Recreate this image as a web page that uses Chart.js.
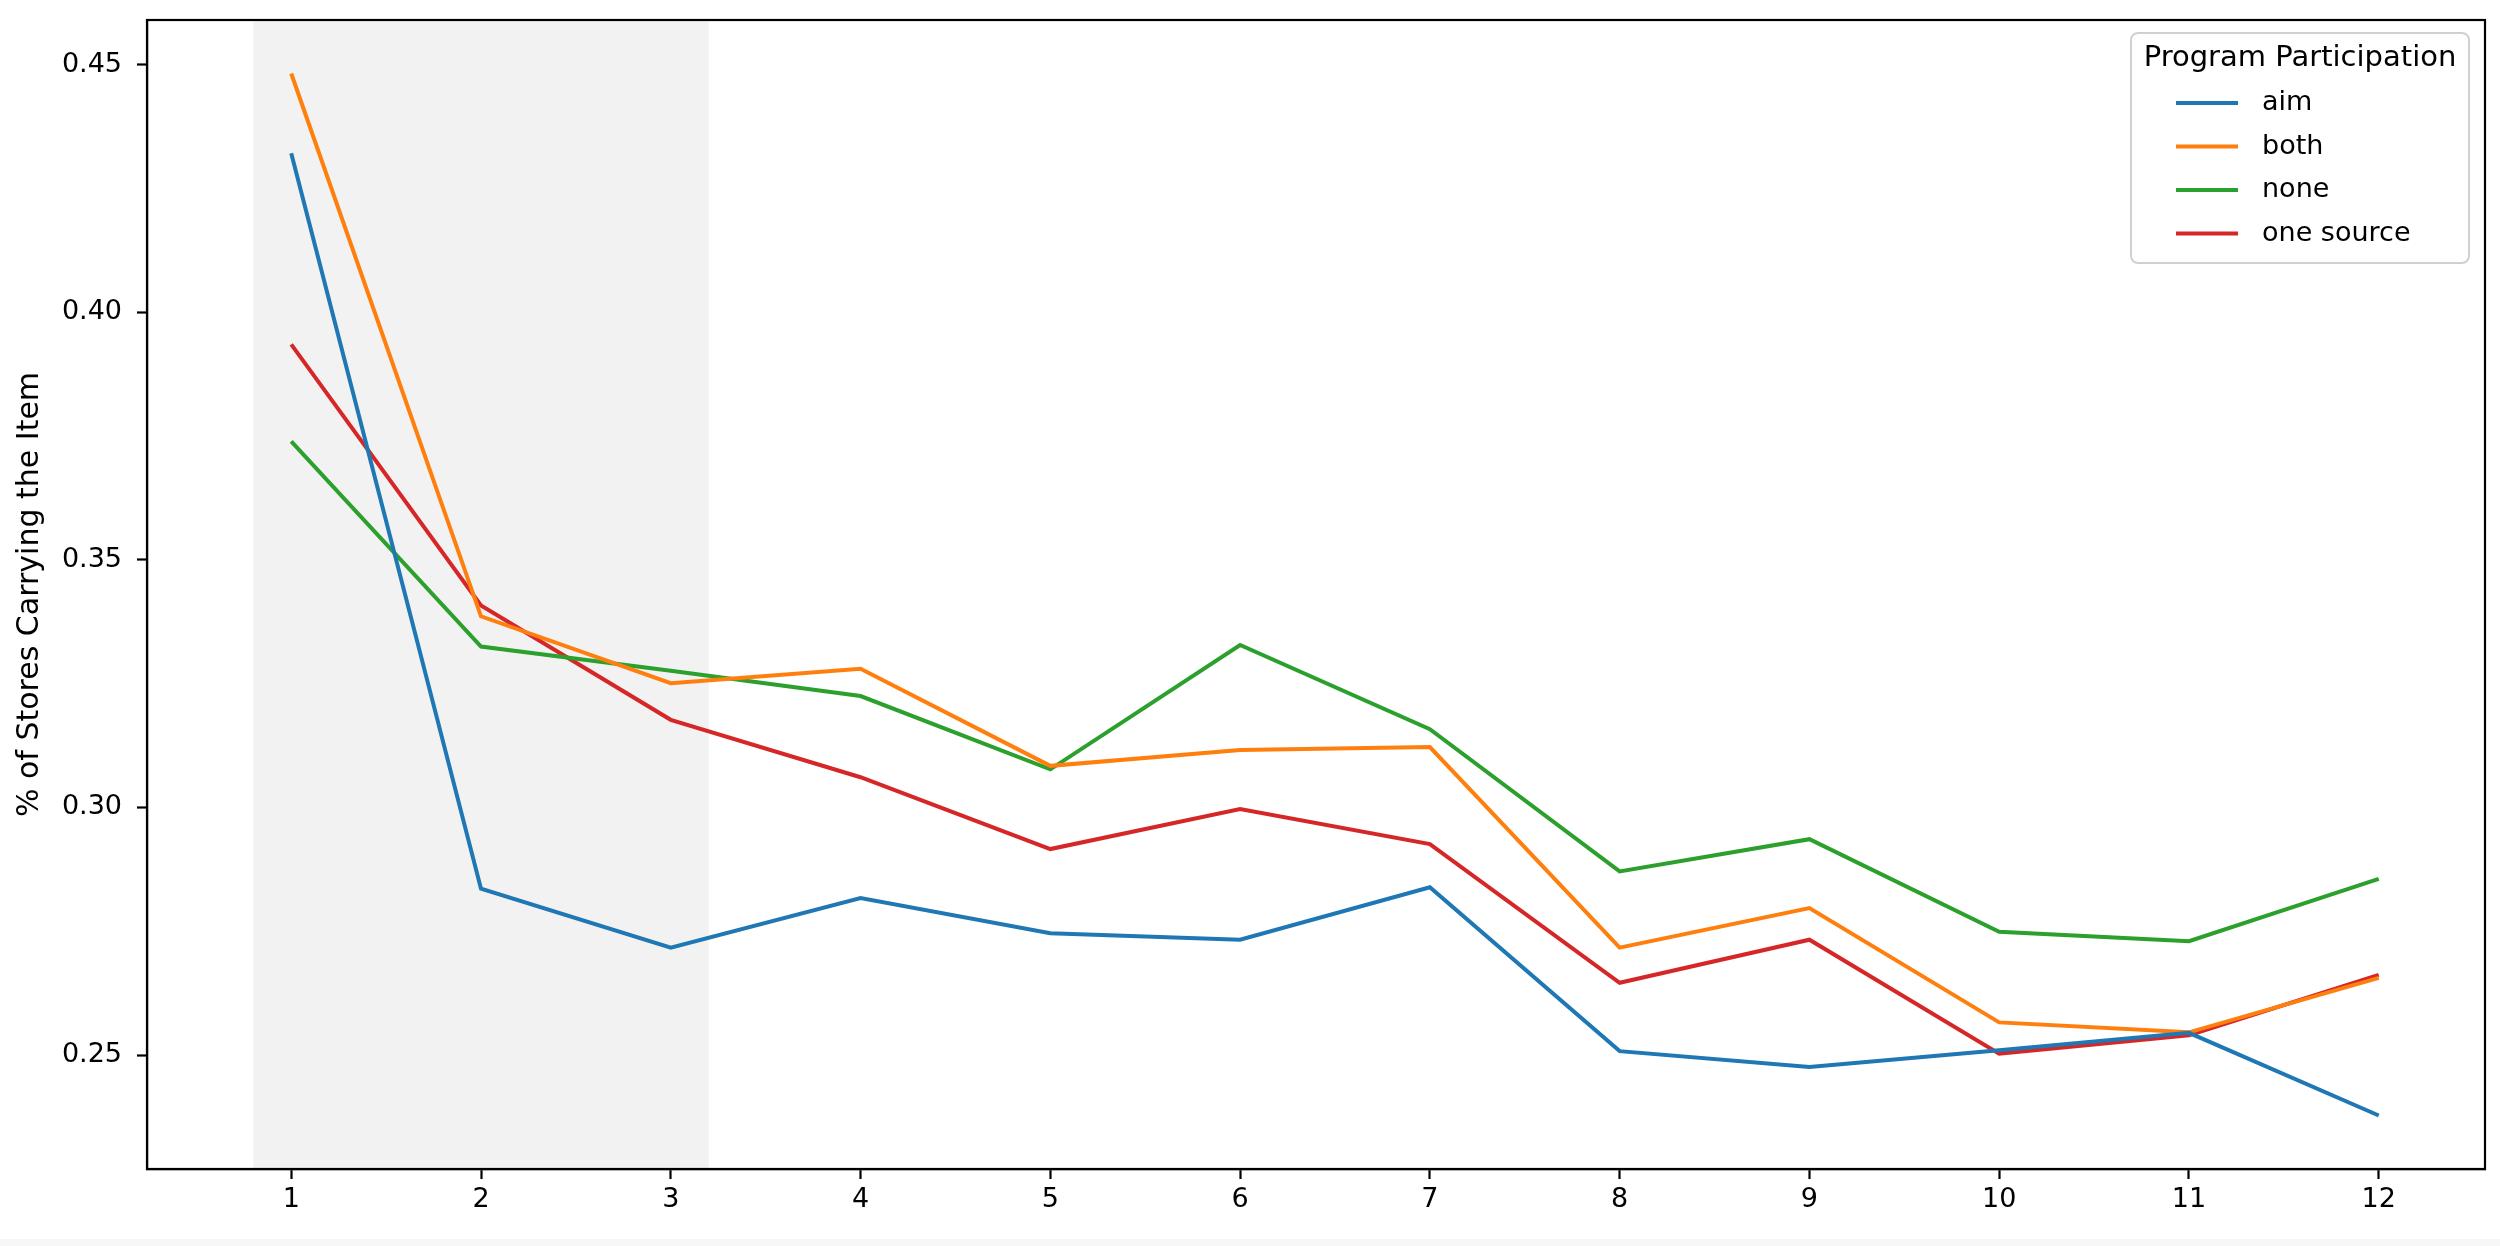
<!DOCTYPE html>
<html lang="en">
<head>
    <meta charset="UTF-8">
    <title>Program Participation</title>
    <script src="https://cdn.jsdelivr.net/npm/chart.js"></script>
    <style>
        html, body { margin: 0; padding: 0; background: #f7f7f7; }
        #wrap { width: 2500px; height: 1239px; background: #fff; }
    </style>
</head>
<body>
    <div id="wrap"><canvas id="chart" width="2500" height="1239"></canvas></div>

    <script>
        // data
        const months = [1, 2, 3, 4, 5, 6, 7, 8, 9, 10, 11, 12];
        const seriesNames = ["aim", "both", "none", "one source"];
        const seriesColors = ["#1f77b4", "#ff7f0e", "#2ca02c", "#d62728"];
        const aim = [0.4321, 0.2836, 0.2717, 0.2817, 0.2746, 0.2733, 0.2839, 0.2508, 0.2476, 0.2510, 0.2545, 0.2378];
        const both = [0.4482, 0.3386, 0.3251, 0.3280, 0.3084, 0.3116, 0.3122, 0.2717, 0.2797, 0.2566, 0.2546, 0.2656];
        const none = [0.3739, 0.3325, 0.3276, 0.3225, 0.3077, 0.3328, 0.3158, 0.2871, 0.2936, 0.2749, 0.2730, 0.2856];
        const oneSource = [0.3935, 0.3408, 0.3177, 0.3061, 0.2916, 0.2997, 0.2926, 0.2646, 0.2733, 0.2503, 0.2540, 0.2662];
        const yTicks = [0.25, 0.30, 0.35, 0.40, 0.45];
        const shadeFrom = 0.8;
        const shadeTo = 3.2;
        const legendTitle = "Program Participation";
        const yTitle = "% of Stores Carrying the Item";

        const FONT = "'DejaVu Sans', sans-serif";
        const allSeries = [aim, both, none, oneSource];

        const datasets = seriesNames.map((name, i) => ({
            label: name,
            data: months.map((m, j) => ({ x: m, y: allSeries[i][j] })),
            borderColor: seriesColors[i],
            backgroundColor: seriesColors[i],
            borderWidth: 4,
            pointRadius: 0,
            tension: 0,
            fill: false
        }));

        // grey band over the first months
        const shadePlugin = {
            id: "shade",
            beforeDatasetsDraw(chart) {
                const { ctx, chartArea, scales } = chart;
                const x0 = scales.x.getPixelForValue(shadeFrom);
                const x1 = scales.x.getPixelForValue(shadeTo);
                ctx.save();
                ctx.fillStyle = "rgba(128,128,128,0.1)";
                ctx.fillRect(x0, chartArea.top, x1 - x0, chartArea.bottom - chartArea.top);
                ctx.restore();
            }
        };

        // frame + boxed legend like matplotlib
        const framePlugin = {
            id: "frame",
            afterDraw(chart) {
                const { ctx, chartArea } = chart;
                ctx.save();
                ctx.strokeStyle = "#000";
                ctx.lineWidth = 2.2;
                ctx.strokeRect(chartArea.left, chartArea.top, chartArea.right - chartArea.left, chartArea.bottom - chartArea.top);

                const bx = chartArea.right - 354, by = chartArea.top + 13, bw = 338, bh = 230;
                ctx.beginPath();
                ctx.roundRect(bx, by, bw, bh, 7);
                ctx.fillStyle = "rgba(255,255,255,0.8)";
                ctx.fill();
                ctx.strokeStyle = "#d0d0d0";
                ctx.lineWidth = 2;
                ctx.stroke();

                ctx.fillStyle = "#000";
                ctx.font = "29px " + FONT;
                ctx.textBaseline = "middle";
                ctx.textAlign = "center";
                ctx.fillText(legendTitle, bx + bw / 2, by + 25);

                ctx.font = "27px " + FONT;
                ctx.textAlign = "left";
                chart.data.datasets.forEach((ds, i) => {
                    const yy = by + 70 + i * 43.5;
                    ctx.beginPath();
                    ctx.moveTo(bx + 45, yy);
                    ctx.lineTo(bx + 107, yy);
                    ctx.strokeStyle = ds.borderColor;
                    ctx.lineWidth = 4;
                    ctx.stroke();
                    ctx.fillStyle = "#000";
                    ctx.fillText(ds.label, bx + 131, yy);
                });
                ctx.restore();
            }
        };

        new Chart(document.getElementById("chart"), {
            type: "line",
            data: { datasets: datasets },
            options: {
                responsive: false,
                animation: false,
                layout: { padding: { top: 20, right: 15, left: 0, bottom: 0 } },
                plugins: {
                    legend: { display: false },
                    tooltip: { enabled: false }
                },
                scales: {
                    x: {
                        type: "linear",
                        min: 0.24,
                        max: 12.56,
                        afterBuildTicks: (s) => { s.ticks = months.map(v => ({ value: v })); },
                        afterFit: (s) => { s.height = 70; s.paddingLeft = 0; s.paddingRight = 0; },
                        grid: { drawOnChartArea: false, tickLength: 10, tickWidth: 2.2, tickColor: "#000" },
                        border: { display: true, color: "#000", width: 2.2 },
                        ticks: { color: "#000", font: { family: FONT, size: 27 }, padding: 5, maxRotation: 0 }
                    },
                    y: {
                        type: "linear",
                        min: 0.227,
                        max: 0.459,
                        afterBuildTicks: (s) => { s.ticks = yTicks.map(v => ({ value: v })); },
                        afterFit: (s) => { s.width = 147; s.paddingTop = 0; s.paddingBottom = 0; },
                        grid: { drawOnChartArea: false, tickLength: 10, tickWidth: 2.2, tickColor: "#000" },
                        border: { display: true, color: "#000", width: 2.2 },
                        ticks: {
                            color: "#000",
                            font: { family: FONT, size: 27 },
                            padding: 15,
                            callback: (v) => Number(v).toFixed(2)
                        },
                        title: {
                            display: true,
                            text: yTitle,
                            color: "#000",
                            font: { family: FONT, size: 30 },
                            padding: { top: 12, bottom: 0 }
                        }
                    }
                }
            },
            plugins: [shadePlugin, framePlugin]
        });
    </script>
</body>
</html>
